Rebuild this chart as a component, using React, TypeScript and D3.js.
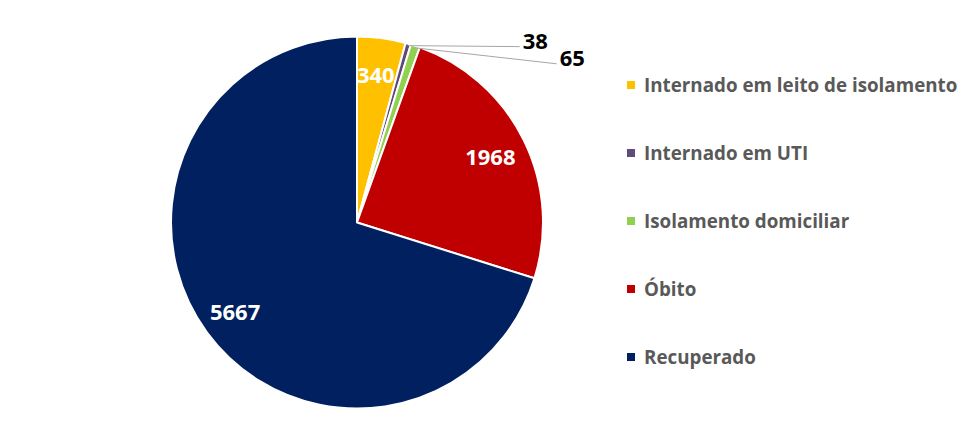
import React, { useEffect, useRef } from "react";
import * as d3 from "d3";

const categories = [
  "Internado em leito de isolamento",
  "Internado em UTI",
  "Isolamento domiciliar",
  "Óbito",
  "Recuperado",
];
const values = [340, 38, 65, 1968, 5667];
const colors = ["#FFC000", "#604A7B", "#92D050", "#C00000", "#002060"];
// labels drawn outside with a leader line
const outsideLabels = ["Internado em UTI", "Isolamento domiciliar"];

const PieChart = () => {
  const chartRef = useRef(null);
  const width = 964;
  const height = 423;
  const cx = 357;
  const cy = 222.5;
  const radius = 186;

  useEffect(() => {
    if (!chartRef.current) return;
    const svg = d3.select(chartRef.current);
    svg.selectAll("*").remove();

    const data = categories.map((c, i) => ({ name: c, value: values[i], color: colors[i] }));

    const pie = d3
      .pie<any>()
      .sort(null)
      .value((d) => d.value);
    const arcs = pie(data);

    const arc = d3.arc<any>().innerRadius(0).outerRadius(radius);
    const labelArc = d3.arc<any>().innerRadius(150).outerRadius(150);
    const edgeArc = d3.arc<any>().innerRadius(radius - 2).outerRadius(radius - 2);

    svg.append("rect").attr("width", width).attr("height", height).attr("fill", "#fff");

    const g = svg.append("g").attr("transform", `translate(${cx},${cy})`);

    // slices
    g.selectAll("path.slice")
      .data(arcs)
      .join("path")
      .attr("class", "slice")
      .attr("d", arc)
      .attr("fill", (d) => d.data.color)
      .attr("stroke", "#fff")
      .attr("stroke-width", 2)
      .attr("stroke-linejoin", "round");

    // inside labels
    g.selectAll("text.inside")
      .data(arcs.filter((d) => !outsideLabels.includes(d.data.name)))
      .join("text")
      .attr("class", "inside")
      .attr("transform", (d) => `translate(${labelArc.centroid(d)})`)
      .attr("dx", -1)
      .attr("text-anchor", "middle")
      .attr("dominant-baseline", "central")
      .attr("fill", "#fff")
      .attr("font-family", "'Open Sans', sans-serif")
      .attr("font-weight", 700)
      .attr("font-size", 22)
      .text((d) => d.data.value);

    // outside labels with leader lines (offsets from slice edge)
    const leaderOffsets = [
      [112, 1],
      [142, 16],
    ];
    const outside = arcs.filter((d) => outsideLabels.includes(d.data.name));
    outside.forEach((d, i) => {
      const [x0, y0] = edgeArc.centroid(d);
      const x1 = x0 + leaderOffsets[i][0];
      const y1 = y0 + leaderOffsets[i][1];
      g.append("polyline")
        .attr("points", `${x0},${y0} ${x1},${y1}`)
        .attr("fill", "none")
        .attr("stroke", "#a6a6a6")
        .attr("stroke-width", 1);
      g.append("text")
        .attr("x", x1 + 3)
        .attr("y", y1 - 7)
        .attr("dominant-baseline", "central")
        .attr("fill", "#000")
        .attr("font-family", "'Open Sans', sans-serif")
        .attr("font-weight", 700)
        .attr("font-size", 22)
        .text(d.data.value);
    });

    // legend
    const legendY = d3
      .scalePoint()
      .domain(categories)
      .range([85, 357]);
    const legend = svg
      .append("g")
      .selectAll("g")
      .data(data)
      .join("g")
      .attr("transform", (d) => `translate(627,${legendY(d.name)})`);
    legend
      .append("rect")
      .attr("x", 0)
      .attr("y", -4)
      .attr("width", 8)
      .attr("height", 8)
      .attr("fill", (d) => d.color);
    legend
      .append("text")
      .attr("x", 17)
      .attr("y", 0)
      .attr("dominant-baseline", "central")
      .attr("fill", "#595959")
      .attr("font-family", "'Open Sans', sans-serif")
      .attr("font-weight", 700)
      .attr("font-size", 18.8)
      .text((d) => d.name);
  }, [chartRef]);

  return (
    <svg
      ref={chartRef}
      width={width}
      height={height}
      viewBox={`0 0 ${width} ${height}`}
      style={{ position: "absolute", left: 0, top: 0 }}
    />
  );
};

export default function App() {
  return <PieChart />;
}
